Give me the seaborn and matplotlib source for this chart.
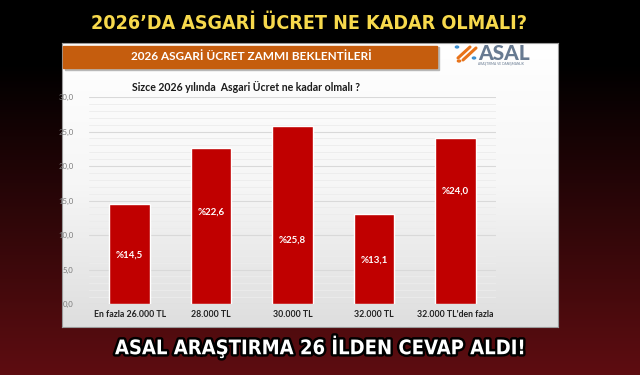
import matplotlib
matplotlib.use("Agg")
import matplotlib.pyplot as plt
import matplotlib.patheffects as pe
from matplotlib import font_manager as fm
from matplotlib.colors import LinearSegmentedColormap
from matplotlib.patches import Rectangle, Circle
from matplotlib.ticker import FuncFormatter, MultipleLocator
import numpy as np
import pandas as pd
import seaborn as sns

# data
categories = ["En fazla 26.000 TL", "28.000 TL", "30.000 TL", "32.000 TL", "32.000 TL'den fazla"]
values = [14.5, 22.6, 25.8, 13.1, 24.0]
value_labels = ["%14,5", "%22,6", "%25,8", "%13,1", "%24,0"]
# where each value label sits, as a share of its bar height
label_share = [0.49, 0.59, 0.36, 0.49, 0.68]

title = "2026’DA ASGARİ ÜCRET NE KADAR OLMALI?"
footer = "ASAL ARAŞTIRMA 26 İLDEN CEVAP ALDI!"
header = "2026 ASGARİ ÜCRET ZAMMI BEKLENTİLERİ"
question = "Sizce 2026 yılında  Asgari Ücret ne kadar olmalı ?"

df = pd.DataFrame({"cat": categories, "val": values})

sns.set_style("white")
plt.rcParams["font.family"] = ["Lato", "DejaVu Sans"]

# pick a narrow family for the headlines if one is installed
installed = {f.name for f in fm.fontManager.ttflist}
narrow = [f.name for f in fm.fontManager.ttflist
          if f.stretch in ("condensed", "semi-condensed", "extra-condensed") or "Narrow" in f.name
          or "Condensed" in f.name]
cond = (narrow[:1] or ["Roboto"]) + ["DejaVu Sans"]
stretch = "condensed" if narrow else "normal"

W, H = 640, 375
fig = plt.figure(figsize=(6.4, 3.75), dpi=100)

# dark background: black on top fading into maroon
bg = fig.add_axes([0, 0, 1, 1])
bg_cmap = LinearSegmentedColormap.from_list("bg", [(0, "#000000"), (0.17, "#000000"), (1, "#5e0d11")])
bg.imshow(np.linspace(0, 1, 256).reshape(-1, 1), aspect="auto", cmap=bg_cmap, extent=[0, 1, 0, 1])
bg.set_axis_off()

# light panel behind the chart
px0, px1, py0, py1 = 62, 558, 43, 327
panel = fig.add_axes([px0 / W, 1 - py1 / H, (px1 - px0) / W, (py1 - py0) / H])
panel_cmap = LinearSegmentedColormap.from_list("panel", ["#ffffff", "#f6f6f6", "#dedede"])
panel.imshow(np.linspace(0, 1, 256).reshape(-1, 1), aspect="auto", cmap=panel_cmap, extent=[0, 1, 0, 1])
panel.set_xticks([])
panel.set_yticks([])
for s in panel.spines.values():
    s.set_color("#9a9a9a")
    s.set_linewidth(0.8)

# orange header strip with a soft shadow
fig.patches.append(Rectangle((65 / W, 1 - 70 / H), 374 / W, 23 / H, transform=fig.transFigure,
                             color="#b8b8b8", zorder=3))
fig.patches.append(Rectangle((63 / W, 1 - 68 / H), 374 / W, 22 / H, transform=fig.transFigure,
                             color="#c55d0e", zorder=4))
fig.text(251 / W, 1 - 57 / H, header, color="white", fontsize=8.5, fontweight="bold",
         ha="center", va="center", zorder=5)

# ASAL logo
fig.text(478 / W, 1 - 53 / H, "ASAL", color="#677a91", fontsize=15, fontweight="black",
         ha="left", va="center", zorder=5)
fig.text(478 / W, 1 - 64 / H, "ARAŞTIRMA VE DANIŞMANLIK", color="#677a91", fontsize=2.3,
         ha="left", va="center", zorder=5)
for (x0, y0, x1, y1) in [(458, 58, 470, 47), (463, 60, 476, 48)]:
    fig.lines.append(plt.Line2D([x0 / W, x1 / W], [1 - y0 / H, 1 - y1 / H], transform=fig.transFigure,
                                color="#e8731a", lw=2.2, solid_capstyle="round", zorder=5))
for (cx, cy, col) in [(457, 47, "#3b8fd0"), (474, 58, "#3b8fd0"), (459, 61, "#e8731a")]:
    fig.patches.append(Circle((cx / W, 1 - cy / H), 1.6 / W, transform=fig.transFigure,
                              color=col, zorder=5))

fig.text(132 / W, 1 - 87 / H, question, color="#1a1a1a", fontsize=7.6, fontweight="bold",
         ha="left", va="center", zorder=5)

# the bar chart itself
ax = fig.add_axes([89 / W, 1 - 304 / H, 407 / W, 207 / H])
ax.set_facecolor("none")
sns.barplot(data=df, x="cat", y="val", color="#c00000", saturation=1, width=0.5, ax=ax, zorder=3)
ax.set_ylim(0, 30)
ax.set_xlim(-0.5, len(categories) - 0.5)
ax.yaxis.set_major_locator(MultipleLocator(5))
ax.yaxis.set_minor_locator(MultipleLocator(1))
ax.yaxis.set_major_formatter(FuncFormatter(lambda v, p: f"{v:.1f}".replace(".", ",")))
ax.grid(axis="y", which="major", color="#d9d9d9", lw=0.8, zorder=0)
ax.grid(axis="y", which="minor", color="#ececec", lw=0.6, zorder=0)
ax.set_xlabel("")
ax.set_ylabel("")
for s in ax.spines.values():
    s.set_visible(False)
ax.tick_params(axis="y", which="both", length=0, labelsize=5.6, labelcolor="#7a7a7a", pad=11)
ax.tick_params(axis="x", length=0, labelsize=6.3, labelcolor="#222222", pad=4)
for lab in ax.get_xticklabels():
    lab.set_fontweight("bold")

for i, (v, t, sh) in enumerate(zip(values, value_labels, label_share)):
    ax.text(i, v * sh, t, color="white", fontsize=7, fontweight="bold", ha="center", va="center", zorder=4)

# headline texts on the dark background
t1 = fig.text(309 / W, 1 - 23.5 / H, title, color="#f7d94c", fontsize=22, fontweight="heavy",
              family=cond, fontstretch=stretch, ha="center", va="center", zorder=6)
t2 = fig.text(320 / W, 1 - 347 / H, footer, color="white", fontsize=20, fontweight="heavy",
              family=cond, fontstretch=stretch, ha="center", va="center", zorder=6,
              path_effects=[pe.withStroke(linewidth=3.5, foreground="black")])

# size the headlines so they span the same width as in the reference
renderer = fig.canvas.get_renderer()
for t, target in [(t1, 436), (t2, 410)]:
    w = t.get_window_extent(renderer).width
    t.set_fontsize(t.get_fontsize() * target / w)

fig.savefig("out.png", dpi=100)
